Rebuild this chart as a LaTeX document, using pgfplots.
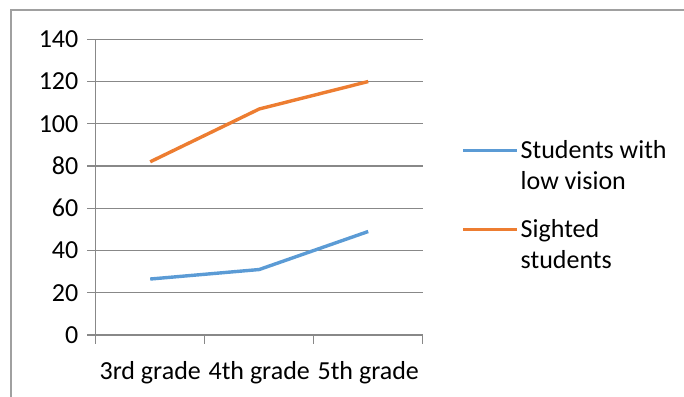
\documentclass[border=0pt]{standalone}
\usepackage{pgfplots}
\pgfplotsset{compat=1.18}
\usepackage{fontspec}
\setmainfont{Carlito}
\definecolor{lowvision}{HTML}{5B9BD5}
\definecolor{sighted}{HTML}{ED7D31}
\definecolor{gridgray}{HTML}{888888}
\definecolor{framegray}{HTML}{A0A0A0}
\begin{document}
\fontsize{26bp}{31bp}\selectfont
\begin{tikzpicture}[x=1bp,y=1bp]
\path[use as bounding box] (0,0) rectangle (684,396);
% chart frame
\draw[framegray, line width=1.3bp] (11,-5) -- (11,386) -- (690,386);
\begin{axis}[
  at={(95.7bp,61bp)}, anchor=south west,
  scale only axis, width=327bp, height=295.7bp,
  xmin=-0.5, xmax=2.5, ymin=0, ymax=140,
  axis lines=left, axis line style={draw=gridgray, line width=1.2bp, -},
  xtick={-0.5,0.5,1.5,2.5},
  x tick label as interval,
  xticklabels={3rd grade,4th grade,5th grade},
  ytick={0,20,...,140},
  ymajorgrids, grid style={draw=gridgray, line width=1.2bp},
  tick align=outside, major tick length=8.5bp,
  tick style={draw=gridgray, line width=1.2bp},
  /pgf/number format/assume math mode=true,
  ticklabel style={font=\fontsize{26bp}{31bp}\selectfont, text=black},
  xticklabel style={yshift=-9bp},
  legend style={at={(rel axis cs:1.1174,0.666)}, anchor=north west,
    draw=none, fill=none, inner sep=0pt, row sep=22bp,
    font=\fontsize{26bp}{31bp}\selectfont,
    nodes={inner sep=2bp, align=left}},
  legend cell align=left,
  legend image code/.code={\draw[#1] (0bp,16bp) -- (54bp,16bp);},
]
\addplot[lowvision, line width=3.4bp] coordinates {(0,26.5) (1,31) (2,49)};
\addlegendentry{Students with\\low vision}
\addplot[sighted, line width=3.4bp] coordinates {(0,82) (1,107) (2,120)};
\addlegendentry{Sighted\\students}
\end{axis}
\end{tikzpicture}
\end{document}
